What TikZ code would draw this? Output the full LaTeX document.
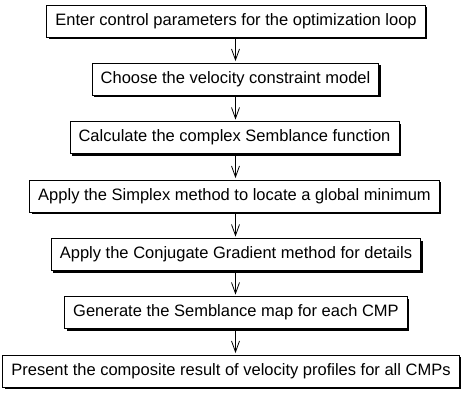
\documentclass[tikz,border=0pt]{standalone}
\usepackage{fontspec}
\setmainfont{Liberation Sans}
\usetikzlibrary{shadows,arrows.meta}
\begin{document}
\begin{tikzpicture}[x=1pt,y=-1pt,
  stepbox/.style={draw=black, line width=0.8pt, fill=white,
    inner xsep=8.5pt, inner ysep=0pt, minimum height=32pt,
    font=\fontsize{16.5}{18}\selectfont,
    general shadow={fill=black, shadow xshift=2pt, shadow yshift=-2pt}},
  flow/.style={line width=0.8pt, shorten >=1.5pt,
    -{Straight Barb[length=11pt,width=8pt,line width=0.8pt]}}]
  \useasboundingbox (0,0) rectangle (463,392);
  \node[stepbox] (s1) at (236,21) {Enter control parameters for the optimization loop};
  \node[stepbox] (s2) at (235.5,79) {Choose the velocity constraint model};
  \node[stepbox] (s3) at (234.5,137.5) {Calculate the complex Semblance function};
  \node[stepbox] (s4) at (234.5,196) {Apply the Simplex method to locate a global minimum};
  \node[stepbox] (s5) at (236,254.5) {Apply the Conjugate Gradient method for details};
  \node[stepbox] (s6) at (236,312.5) {Generate the Semblance map for each CMP};
  \node[stepbox] (s7) at (231,371) {Present the composite result of velocity profiles for all CMPs};
  \foreach \a/\b in {s1/s2,s2/s3,s3/s4,s4/s5,s5/s6,s6/s7}
    \draw[flow] (235.5,0 |- \a.south) -- (235.5,0 |- \b.north);
\end{tikzpicture}
\end{document}
